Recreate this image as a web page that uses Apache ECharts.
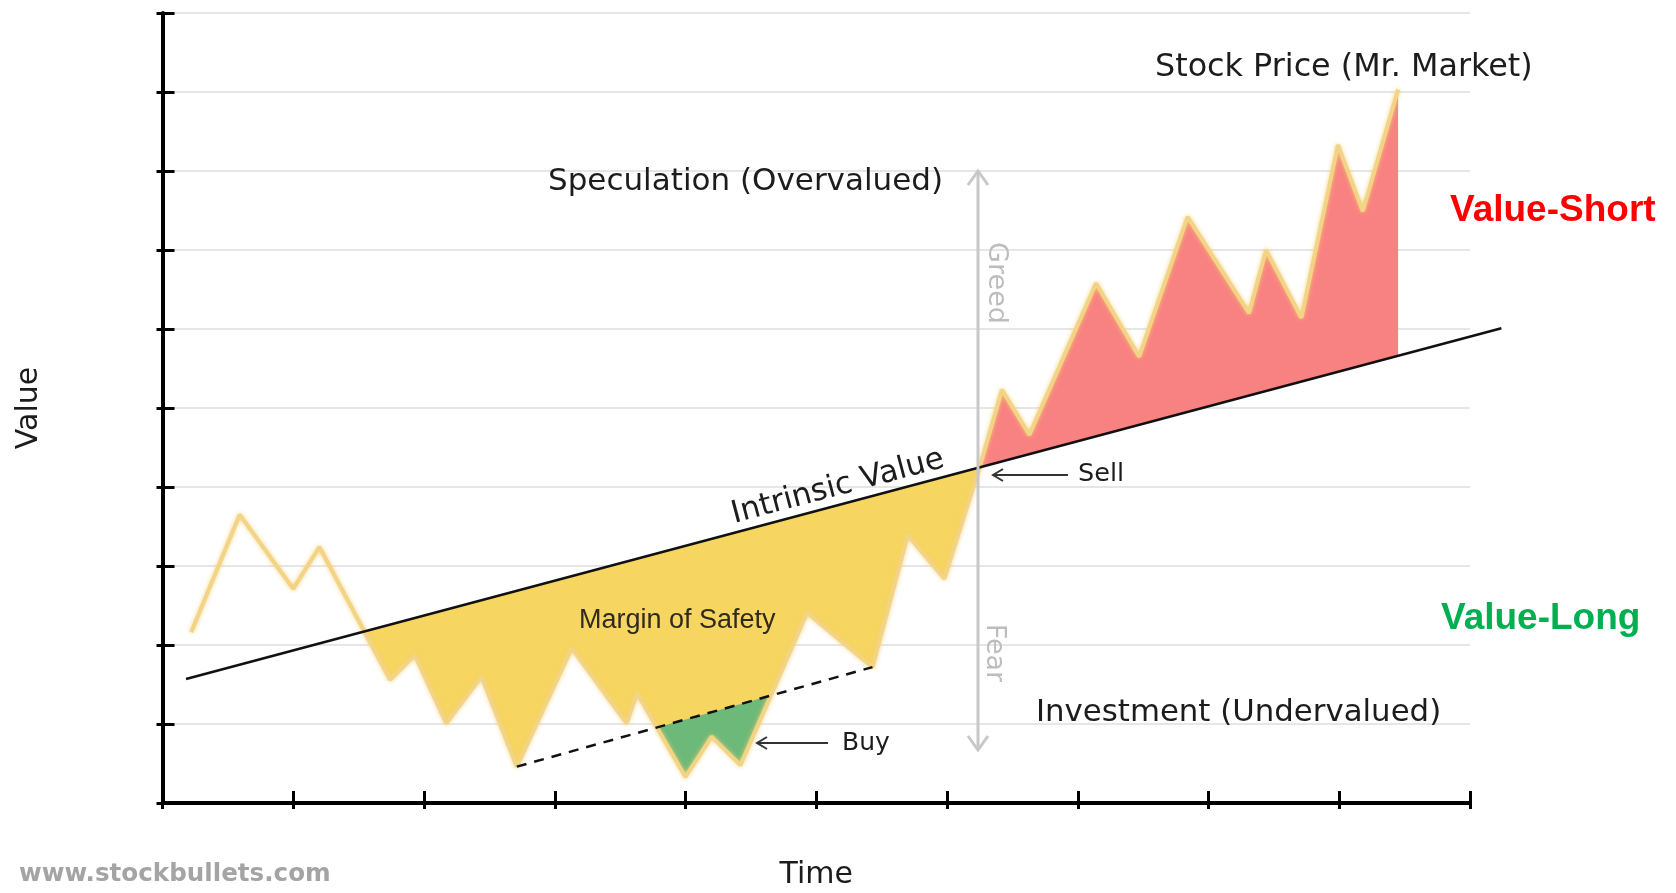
<!DOCTYPE html>
<html>
<head>
<meta charset="utf-8">
<script src="https://cdn.jsdelivr.net/npm/echarts@6/dist/echarts.min.js"></script>
<style>
html,body{margin:0;padding:0;background:#ffffff;}
#chart{width:1676px;height:893px;}
</style>
</head>
<body>
<div id="chart"></div>
<script>
// ---------------- data ----------------
const timeTicks  = [0, 1, 2, 3, 4, 5, 6, 7, 8, 9, 10];
const valueTicks = [0, 1, 2, 3, 4, 5, 6, 7, 8, 9, 10];

// Intrinsic value: straight line (time, value)
const intrinsicValue = [[0.18, 1.57], [10.24, 6.01]];

// Stock price (Mr. Market) zig-zag (time, value)
const stockPrice = [
  [0.22, 2.16], [0.59, 3.65], [1.00, 2.71], [1.20, 3.24], [1.74, 1.56],
  [1.93, 1.87], [2.17, 1.01], [2.44, 1.60], [2.71, 0.46], [3.13, 1.96],
  [3.55, 1.01], [3.63, 1.39], [4.00, 0.33], [4.20, 0.84], [4.42, 0.48],
  [4.93, 2.41], [5.43, 1.72], [5.70, 3.39], [5.98, 2.84], [6.25, 4.25],
  [6.42, 5.23], [6.63, 4.66], [7.14, 6.58], [7.47, 5.65], [7.84, 7.42],
  [8.31, 6.20], [8.44, 7.00], [8.71, 6.14], [8.99, 8.33], [9.18, 7.49],
  [9.45, 9.03]
];

// Dashed "buy" support line joining the two troughs
const buySupport = [[2.71, 0.46], [5.43, 1.72]];

// Time of the "Sell" point (price meets intrinsic value)
const sellTime = 6.25;

// ---------------- region helpers ----------------
function lineAt(seg, x) {
  const a = seg[0], b = seg[1];
  return a[1] + (b[1] - a[1]) * (x - a[0]) / (b[0] - a[0]);
}
function regions(points, seg, below, xMin, xMax) {
  const polys = [];
  let cur = null;
  const diff = p => p[1] - lineAt(seg, p[0]);
  const isIn = p => p[0] >= xMin && p[0] <= xMax && (below ? diff(p) < 0 : diff(p) > 0);
  const cross = (p, q) => {
    const dp = diff(p), dq = diff(q);
    if ((dp < 0) === (dq < 0) || dp === dq) return [q[0], lineAt(seg, q[0])];
    const t = dp / (dp - dq);
    const x = p[0] + (q[0] - p[0]) * t;
    return [x, lineAt(seg, x)];
  };
  for (let i = 0; i < points.length; i++) {
    const p = points[i];
    if (isIn(p)) {
      if (!cur) {
        cur = [];
        if (i > 0) cur.push(cross(points[i - 1], p));
        else cur.push([p[0], lineAt(seg, p[0])]);
      }
      cur.push(p);
      const nxt = points[i + 1];
      if (!nxt || !isIn(nxt)) {
        if (nxt) cur.push(cross(p, nxt));
        else cur.push([p[0], lineAt(seg, p[0])]);
        polys.push(cur);
        cur = null;
      }
    }
  }
  return polys;
}

const marginPolys = regions(stockPrice, intrinsicValue, true, -Infinity, Infinity);
const specPolys   = regions(stockPrice, intrinsicValue, false, sellTime, Infinity);
const buyPolys    = regions(stockPrice, buySupport, true, buySupport[0][0], buySupport[1][0]);

function fillSeries(name, polys, color, z) {
  const flat = [];
  polys.forEach(pl => pl.forEach(p => flat.push(p)));
  return {
    name: name,
    type: 'custom',
    coordinateSystem: 'cartesian2d',
    silent: true,
    animation: false,
    z: z,
    data: flat,
    renderItem: function (params, api) {
      if (params.dataIndex !== 0) return null;
      return {
        type: 'group',
        children: polys.map(pl => ({
          type: 'polygon',
          shape: { points: pl.map(p => api.coord(p)) },
          style: { fill: color }
        }))
      };
    }
  };
}

// ---------------- annotation helpers ----------------
const SANS = '"DejaVu Sans", "Open Sans", sans-serif';
const ARIAL = '"Liberation Sans", Arial, sans-serif';
const INK = '#1c1c1c';
function txt(text, x, y, size, opts) {
  opts = opts || {};
  const align = opts.align || 'left';
  return {
    type: 'text', x: x, y: y, z: 100, silent: true,
    rotation: opts.rotation || 0,
    style: {
      text: text,
      fontSize: size,
      fontFamily: opts.family || SANS,
      fontWeight: opts.weight || 'normal',
      fill: opts.color || INK,
      align: align, verticalAlign: 'middle',
      textAlign: align, textVerticalAlign: 'middle'
    }
  };
}
function pl(points, color, width) {
  return { type: 'polyline', z: 90, silent: true, shape: { points: points },
           style: { stroke: color, lineWidth: width, fill: null } };
}

const chart = echarts.init(document.getElementById('chart'), null, { renderer: 'canvas' });

const axisBlack = { color: '#000000', width: 4 };
const tickBlack = { color: '#000000', width: 3 };

const option = {
  backgroundColor: '#ffffff',
  animation: false,
  grid: { left: 162.5, top: 13, right: 206, bottom: 90, containLabel: false, outerBoundsMode: 'none' },
  xAxis: [
    {
      type: 'value', min: timeTicks[0], max: timeTicks[timeTicks.length - 1], interval: 1,
      position: 'bottom',
      axisLine: { show: true, onZero: false, lineStyle: axisBlack },
      axisTick: { show: true, inside: true, length: 12, lineStyle: tickBlack },
      axisLabel: { show: false },
      splitLine: { show: false },
      name: 'Time', nameLocation: 'middle', nameGap: 57,
      nameTextStyle: { fontFamily: SANS, fontSize: 30, color: INK }
    },
    {
      type: 'value', min: timeTicks[0], max: timeTicks[timeTicks.length - 1], interval: 1,
      position: 'bottom',
      axisLine: { show: false, onZero: false },
      axisTick: { show: true, inside: false, length: 6, lineStyle: tickBlack },
      axisLabel: { show: false },
      splitLine: { show: false }
    }
  ],
  yAxis: [
    {
      type: 'value', min: valueTicks[0], max: valueTicks[valueTicks.length - 1], interval: 1,
      position: 'left',
      axisLine: { show: true, onZero: false, lineStyle: axisBlack },
      axisTick: { show: true, inside: true, length: 12, lineStyle: tickBlack },
      axisLabel: { show: false },
      splitLine: { show: true, lineStyle: { color: '#E6E6E6', width: 2 } },
      name: 'Value', nameLocation: 'middle', nameGap: 118,
      nameTextStyle: { fontFamily: SANS, fontSize: 30, color: INK }
    },
    {
      type: 'value', min: valueTicks[0], max: valueTicks[valueTicks.length - 1], interval: 1,
      position: 'left',
      axisLine: { show: false, onZero: false },
      axisTick: { show: true, inside: false, length: 6, lineStyle: tickBlack },
      axisLabel: { show: false },
      splitLine: { show: false }
    }
  ],
  series: [
    fillSeries('Margin of Safety', marginPolys, '#F6D660', 2),
    fillSeries('Speculation', specPolys, '#F88282', 2),
    fillSeries('Buy zone', buyPolys, '#6DB97A', 3),
    {
      name: 'Stock Price (Mr. Market)', type: 'line', data: stockPrice,
      showSymbol: false, symbol: 'none', z: 4, silent: true,
      lineStyle: { color: '#F2D487', width: 4, shadowBlur: 4, shadowColor: 'rgba(250,205,110,0.9)' }
    },
    {
      name: 'Buy support', type: 'line', data: buySupport,
      showSymbol: false, symbol: 'none', z: 5, silent: true,
      lineStyle: { color: '#111111', width: 2.5, type: [10, 8] }
    },
    {
      // drawn as a custom polyline so it may run past the end of the time axis
      name: 'Intrinsic Value', type: 'custom', coordinateSystem: 'cartesian2d',
      data: intrinsicValue, clip: false, silent: true, z: 6,
      renderItem: function (params, api) {
        if (params.dataIndex !== 0) return null;
        return {
          type: 'polyline',
          shape: { points: intrinsicValue.map(p => api.coord(p)) },
          style: { stroke: '#111111', lineWidth: 2.5, fill: null }
        };
      }
    }
  ],
  graphic: [
    txt('Stock Price (Mr. Market)', 1155, 68, 31.8),
    txt('Speculation (Overvalued)', 548, 182, 31),
    txt('Investment (Undervalued)', 1036, 713, 30.8),
    txt('Intrinsic Value', 838, 487, 31, { align: 'center', rotation: 0.26 }),
    txt('Margin of Safety', 579, 621, 27, { family: ARIAL, color: '#2e2a1c' }),
    txt('Sell', 1078, 474, 25.5),
    txt('Buy', 842, 743, 25),
    txt('Greed', 996, 283, 27, { align: 'center', rotation: -Math.PI / 2, color: '#BDBDBD' }),
    txt('Fear', 994, 653, 27, { align: 'center', rotation: -Math.PI / 2, color: '#BDBDBD' }),
    txt('Value-Short', 1450, 211, 37, { family: ARIAL, weight: 'bold', color: '#FF0000' }),
    txt('Value-Long', 1441, 619, 37, { family: ARIAL, weight: 'bold', color: '#00B050' }),
    txt('www.stockbullets.com', 19, 875, 24.6, { weight: 'bold', color: '#A4A4A4' }),
    // Greed / Fear double arrow
    pl([[978, 171], [978, 750]], '#C8C8C8', 3),
    pl([[968, 185], [978, 171], [988, 185]], '#C8C8C8', 3),
    pl([[968, 736], [978, 750], [988, 736]], '#C8C8C8', 3),
    // Sell arrow
    pl([[993, 475], [1068, 475]], '#333333', 2),
    pl([[1003, 469], [993, 475], [1003, 481]], '#333333', 2),
    // Buy arrow
    pl([[757, 743], [828, 743]], '#333333', 2),
    pl([[767, 737], [757, 743], [767, 749]], '#333333', 2)
  ]
};

chart.setOption(option);
</script>
</body>
</html>
